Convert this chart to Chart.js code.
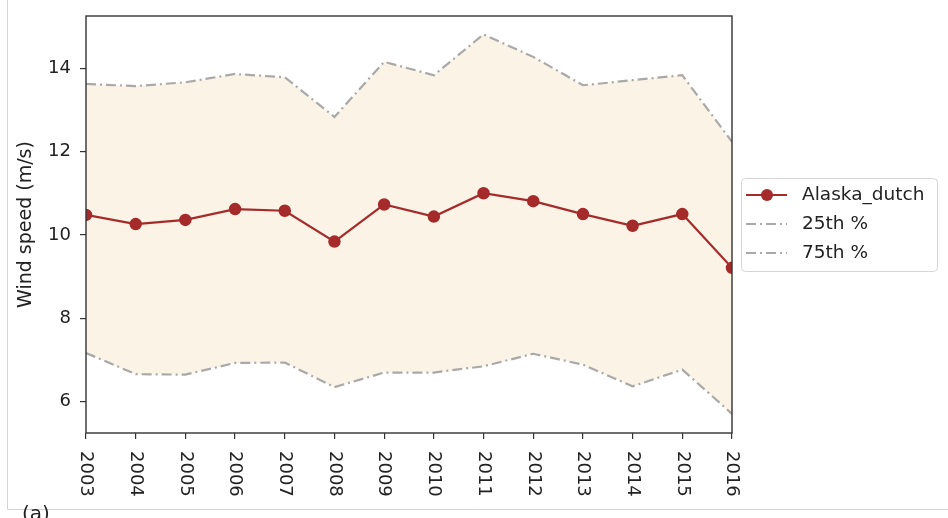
<!DOCTYPE html>
<html>
<head>
<meta charset="utf-8">
<script src="https://cdn.jsdelivr.net/npm/chart.js@4"></script>
<style>
    body { margin: 0; background: #fff; }
    #wrap { width: 948px; height: 518px; }
</style>
</head>
<body>
<div id="wrap"><canvas id="myChart" width="948" height="518"></canvas></div>
<script>
let years = ['2003', '2004', '2005', '2006', '2007', '2008', '2009', '2010', '2011', '2012', '2013', '2014', '2015', '2016'];
let windSpeed = [10.48, 10.26, 10.36, 10.62, 10.58, 9.84, 10.73, 10.44, 11.0, 10.81, 10.50, 10.22, 10.50, 9.21];
let p25 = [7.17, 6.66, 6.65, 6.93, 6.94, 6.35, 6.70, 6.70, 6.85, 7.15, 6.89, 6.37, 6.77, 5.71];
let p75 = [13.62, 13.57, 13.66, 13.86, 13.78, 12.83, 14.15, 13.83, 14.81, 14.27, 13.59, 13.71, 13.83, 12.23];
let yTicks = [6, 8, 10, 12, 14];
let seriesNames = ['Alaska_dutch', '25th %', '75th %'];

let font = "'DejaVu Sans', sans-serif";
let red = '#a52a2a';
let grey = '#a9a9a9';
let band = '#faf3e6';
let axisColor = '#333333';
let dashDot = [10, 4, 2, 4];

// keep lines and markers inside the plot box (edge markers get cut in half)
let clipToArea = {
    id: 'clipToArea',
    beforeDatasetsDraw(chart) {
        let a = chart.chartArea;
        chart.ctx.save();
        chart.ctx.beginPath();
        chart.ctx.rect(a.left, a.top, a.right - a.left, a.bottom - a.top);
        chart.ctx.clip();
    },
    afterDatasetsDraw(chart) {
        chart.ctx.restore();
    }
};

// frame of the chart area, rotated year labels, legend box and panel letter
let extras = {
    id: 'extras',
    beforeDraw(chart) {
        let ctx = chart.ctx;
        ctx.save();
        ctx.strokeStyle = '#d4d4d4';
        ctx.lineWidth = 1;
        ctx.beginPath();
        ctx.moveTo(7.5, 0);
        ctx.lineTo(7.5, 509.5);
        ctx.lineTo(948, 509.5);
        ctx.stroke();
        ctx.restore();
    },
    afterDraw(chart) {
        let ctx = chart.ctx;
        let a = chart.chartArea;
        let x = chart.scales.x;
        ctx.save();
        ctx.strokeStyle = axisColor;
        ctx.lineWidth = 1.4;
        ctx.strokeRect(a.left, a.top, a.right - a.left, a.bottom - a.top);

        ctx.fillStyle = '#222';
        ctx.font = `18px ${font}`;
        ctx.textAlign = 'left';
        ctx.textBaseline = 'middle';
        x.ticks.forEach((t, i) => {
            ctx.save();
            ctx.translate(x.getPixelForTick(i), a.bottom + 18);
            ctx.rotate(Math.PI / 2);
            ctx.fillText(years[t.value], 0, 0);
            ctx.restore();
        });

        // legend
        let lx = 741, ly = 178, lw = 196, lh = 93;
        ctx.fillStyle = '#fff';
        ctx.strokeStyle = '#d6d6d6';
        ctx.lineWidth = 1;
        ctx.beginPath();
        ctx.roundRect(lx + 0.5, ly + 0.5, lw, lh, 4);
        ctx.fill();
        ctx.stroke();

        chart.data.datasets.forEach((ds, i) => {
            let rowY = 195 + i * 29;
            ctx.strokeStyle = ds.borderColor;
            ctx.lineWidth = ds.borderWidth;
            ctx.setLineDash(ds.borderDash || []);
            ctx.beginPath();
            ctx.moveTo(746, rowY);
            ctx.lineTo(787, rowY);
            ctx.stroke();
            ctx.setLineDash([]);
            if (ds.pointRadius > 0) {
                ctx.fillStyle = ds.pointBackgroundColor;
                ctx.beginPath();
                ctx.arc(767, rowY, 6, 0, Math.PI * 2);
                ctx.fill();
            }
            ctx.fillStyle = '#222';
            ctx.font = `18.5px ${font}`;
            ctx.textBaseline = 'middle';
            ctx.fillText(ds.label, 802, rowY);
        });

        ctx.font = `20px ${font}`;
        ctx.textBaseline = 'alphabetic';
        ctx.fillText('(a)', 22, 520);
        ctx.restore();
    }
};

let ctx = document.getElementById('myChart').getContext('2d');

let myChart = new Chart(ctx, {
    type: 'line',
    data: {
        labels: years,
        datasets: [{
            label: seriesNames[0],
            data: windSpeed,
            borderColor: red,
            backgroundColor: red,
            pointBackgroundColor: red,
            pointBorderColor: red,
            borderWidth: 2.2,
            pointRadius: 5.5,
            pointBorderWidth: 1.5,
            tension: 0,
            fill: false,
        }, {
            label: seriesNames[1],
            data: p25,
            borderColor: grey,
            borderWidth: 2.2,
            borderDash: dashDot,
            pointRadius: 0,
            tension: 0,
            fill: false,
        }, {
            label: seriesNames[2],
            data: p75,
            borderColor: grey,
            backgroundColor: band,
            borderWidth: 2.2,
            borderDash: dashDot,
            pointRadius: 0,
            tension: 0,
            fill: '-1',
        }]
    },
    options: {
        responsive: false,
        animation: false,
        events: [],
        layout: {
            padding: { left: 0, top: 16, right: 216, bottom: 0 }
        },
        plugins: {
            legend: { display: false },
            tooltip: { enabled: false },
        },
        scales: {
            x: {
                type: 'category',
                offset: false,
                grid: { drawOnChartArea: false, drawTicks: true, tickLength: 6, color: axisColor, lineWidth: 1.2 },
                border: { display: false },
                ticks: { display: false },
                afterFit: (scale) => { scale.height = 85; },
            },
            y: {
                min: 5.25,
                max: 15.25,
                grid: { drawOnChartArea: false, drawTicks: true, tickLength: 6, color: axisColor, lineWidth: 1.2 },
                border: { display: false },
                ticks: {
                    color: '#222',
                    padding: 9,
                    font: { family: font, size: 18 },
                },
                afterBuildTicks: (scale) => {
                    scale.ticks = yTicks.map(v => ({ value: v }));
                },
                afterFit: (scale) => {
                    scale.width = 86;
                    scale.paddingTop = 0;
                    scale.paddingBottom = 0;
                },
                title: {
                    display: true,
                    text: 'Wind speed (m/s)',
                    color: '#222',
                    font: { family: font, size: 19 },
                    padding: { top: 15, bottom: 0 },
                },
            }
        }
    },
    plugins: [clipToArea, extras]
});
</script>
</body>
</html>
